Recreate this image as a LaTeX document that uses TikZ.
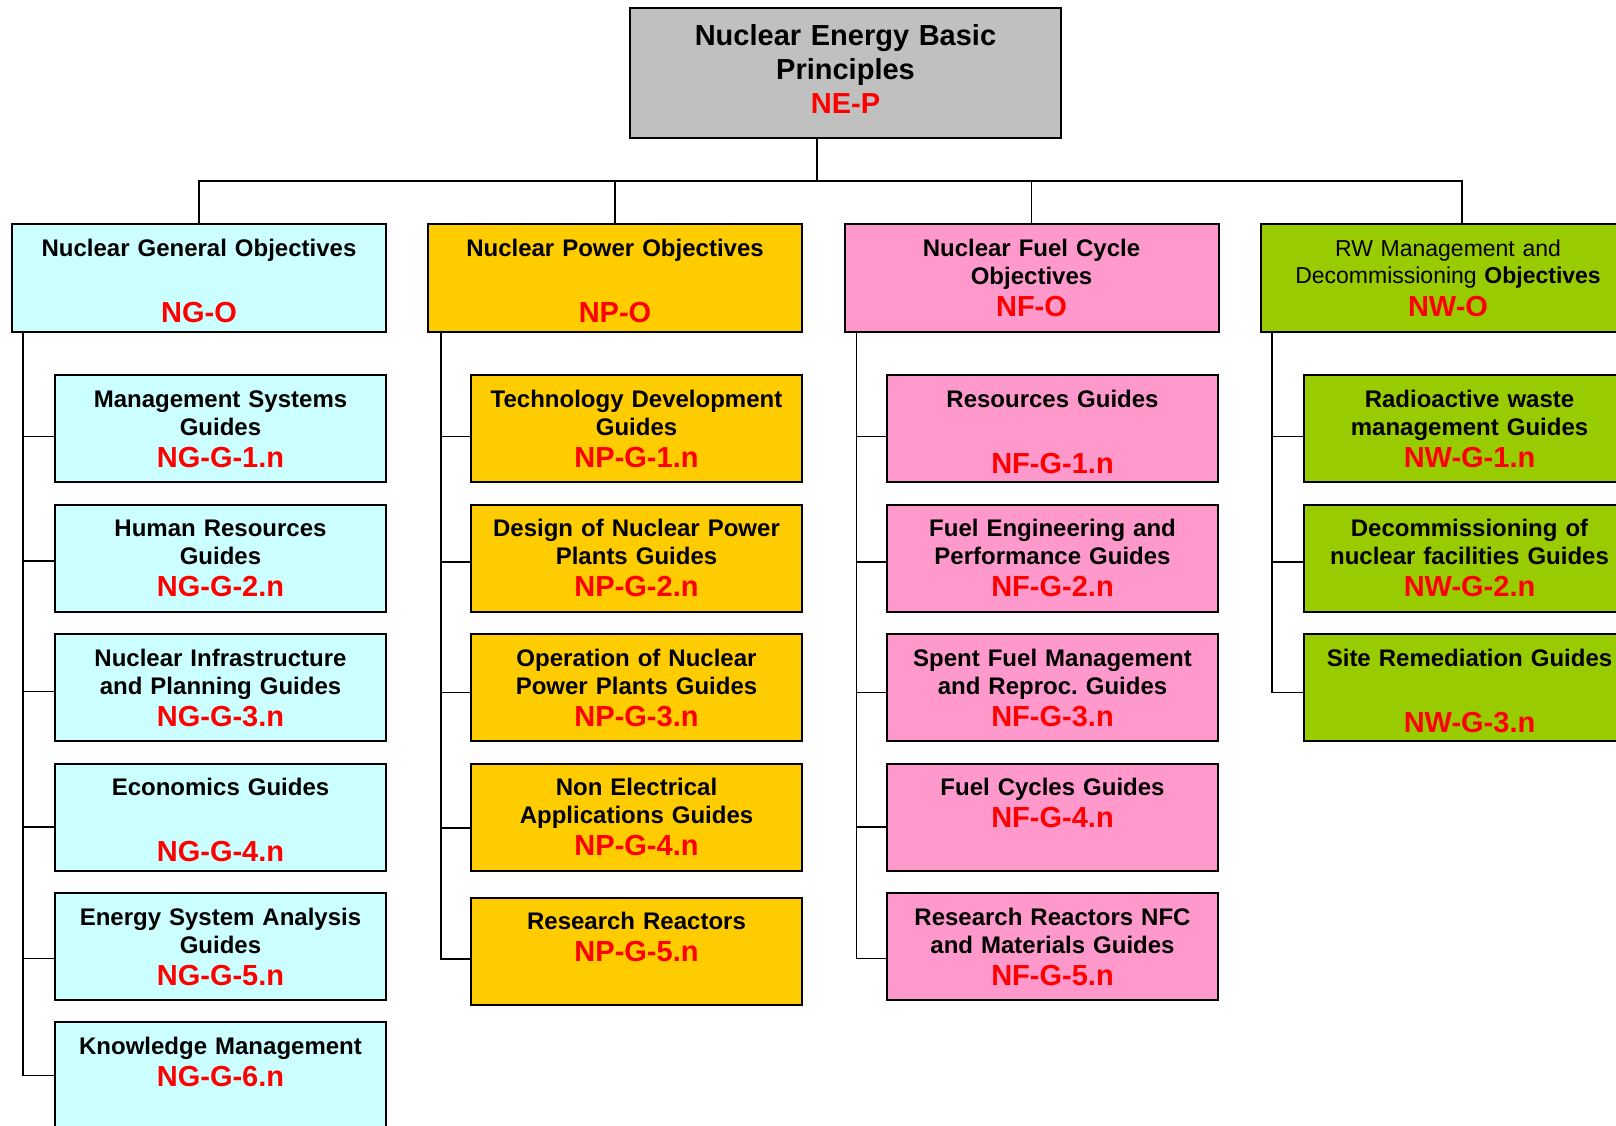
\documentclass[tikz,border=0pt]{standalone}
\usepackage{fontspec}
\setmainfont{Liberation Sans}
\definecolor{topgray}{HTML}{C0C0C0}
\definecolor{ngcol}{HTML}{CCFFFF}
\definecolor{npcol}{HTML}{FFCC00}
\definecolor{nfcol}{HTML}{FF99CC}
\definecolor{nwcol}{HTML}{99CC00}
\newcommand{\guidecode}[1]{{\color{red}\bfseries\fontsize{29}{34}\selectfont #1}}
\begin{document}
\begin{tikzpicture}
          [x=1pt,y=-1pt,every node/.style={draw, line width=2pt, inner sep=0pt, align=center, font=\fontsize{24}{28}\selectfont\bfseries},
           head/.style={fill=#1, text width=374pt, text height=32pt, text depth=76pt},
           guide/.style={fill=#1, text width=331pt, text height=32pt, text depth=75pt},
           link/.style={line width=1.8pt}]
        \useasboundingbox (0,0) rectangle (1616,1126);
        \clip (0,0) rectangle (1616,1126);

        \node[fill=topgray, text width=431pt, text height=38pt, text depth=92pt, font=\fontsize{29}{34}\selectfont\bfseries] (nep) at (845.5,73) {Nuclear Energy Basic\\Principles\\\guidecode{NE-P}};

        \node[head=ngcol] (ngo) at (199,278) {Nuclear General Objectives\\[38pt]\guidecode{NG-O}};
        \node[head=npcol] (npo) at (615,278) {Nuclear Power Objectives\\[38pt]\guidecode{NP-O}};
        \node[head=nfcol] (nfo) at (1031.5,278) {Nuclear Fuel Cycle\\Objectives\\[4pt]\guidecode{NF-O}};
        \node[head=nwcol, font=\fontsize{23}{27}\selectfont] (nwo) at (1448,278) {RW Management and\\Decommissioning \textbf{Objectives}\\[6pt]\guidecode{NW-O}};

        \node[guide=ngcol] (ng1) at (220.5,428.5) {Management Systems\\Guides\\[4pt]\guidecode{NG-G-1.n}};
        \node[guide=ngcol] (ng2) at (220.5,558) {Human Resources\\Guides\\[4pt]\guidecode{NG-G-2.n}};
        \node[guide=ngcol] (ng3) at (220.5,687.5) {Nuclear Infrastructure\\and Planning Guides\\[4pt]\guidecode{NG-G-3.n}};
        \node[guide=ngcol] (ng4) at (220.5,817) {Economics Guides\\[38pt]\guidecode{NG-G-4.n}};
        \node[guide=ngcol] (ng5) at (220.5,946.5) {Energy System Analysis\\Guides\\[4pt]\guidecode{NG-G-5.n}};
        \node[guide=ngcol] (ng6) at (220.5,1075.5) {Knowledge Management\\[4pt]\guidecode{NG-G-6.n}};

        \node[guide=npcol] (np1) at (636.5,428.5) {Technology Development\\Guides\\[4pt]\guidecode{NP-G-1.n}};
        \node[guide=npcol] (np2) at (636.5,558) {Design of Nuclear Power\\Plants Guides\\[4pt]\guidecode{NP-G-2.n}};
        \node[guide=npcol] (np3) at (636.5,687.5) {Operation of Nuclear\\Power Plants Guides\\[4pt]\guidecode{NP-G-3.n}};
        \node[guide=npcol] (np4) at (636.5,817) {Non Electrical\\Applications Guides\\[4pt]\guidecode{NP-G-4.n}};
        \node[guide=npcol] (np5) at (636.5,951) {Research Reactors\\[4pt]\guidecode{NP-G-5.n}};

        \node[guide=nfcol] (nf1) at (1052.5,428.5) {Resources Guides\\[38pt]\guidecode{NF-G-1.n}};
        \node[guide=nfcol] (nf2) at (1052.5,558) {Fuel Engineering and\\Performance Guides\\[4pt]\guidecode{NF-G-2.n}};
        \node[guide=nfcol] (nf3) at (1052.5,687.5) {Spent Fuel Management\\and Reproc.\ Guides\\[4pt]\guidecode{NF-G-3.n}};
        \node[guide=nfcol] (nf4) at (1052.5,817) {Fuel Cycles Guides\\[4pt]\guidecode{NF-G-4.n}};
        \node[guide=nfcol] (nf5) at (1052.5,946.5) {Research Reactors NFC\\and Materials Guides\\[4pt]\guidecode{NF-G-5.n}};

        \node[guide=nwcol] (nw1) at (1469.5,428.5) {Radioactive waste\\management Guides\\[4pt]\guidecode{NW-G-1.n}};
        \node[guide=nwcol] (nw2) at (1469.5,558) {Decommissioning of\\nuclear facilities Guides\\[4pt]\guidecode{NW-G-2.n}};
        \node[guide=nwcol] (nw3) at (1469.5,687.5) {Site Remediation Guides\\[38pt]\guidecode{NW-G-3.n}};

        \coordinate (bus) at (817,181);
        \coordinate (nwbus) at (1462,181);
        \draw[link] (nep.south -| bus) -- (bus);
        \draw[link] (ngo.north) |- (nwbus) -- (nwbus |- nwo.north);
        \foreach \o in {npo, nfo}
          \draw[link] (\o.north) -- (\o.north |- bus);

        \foreach \o/\t/\x in {ngo/ngt/12, npo/npt/14, nfo/nft/13, nwo/nwt/12}
          \coordinate (\t) at ([xshift=\x pt]\o.south west);
        \foreach \t/\n/\d in {ngt/ng6/0, npt/np5/8, nft/nf5/12, nwt/nw3/5}
          \draw[link] (\t) |- ([yshift=-\d pt]\n.west);
        \foreach \t/\n/\d in {ngt/ng1/8, ngt/ng2/3, ngt/ng3/4, ngt/ng4/10, ngt/ng5/12,
                              npt/np1/8, npt/np2/4, npt/np3/5, npt/np4/11,
                              nft/nf1/8, nft/nf2/4, nft/nf3/5, nft/nf4/10,
                              nwt/nw1/8, nwt/nw2/4}
          \draw[link] ([yshift=-\d pt]\n.west) coordinate (s) -- (s -| \t);
      \end{tikzpicture}
\end{document}
